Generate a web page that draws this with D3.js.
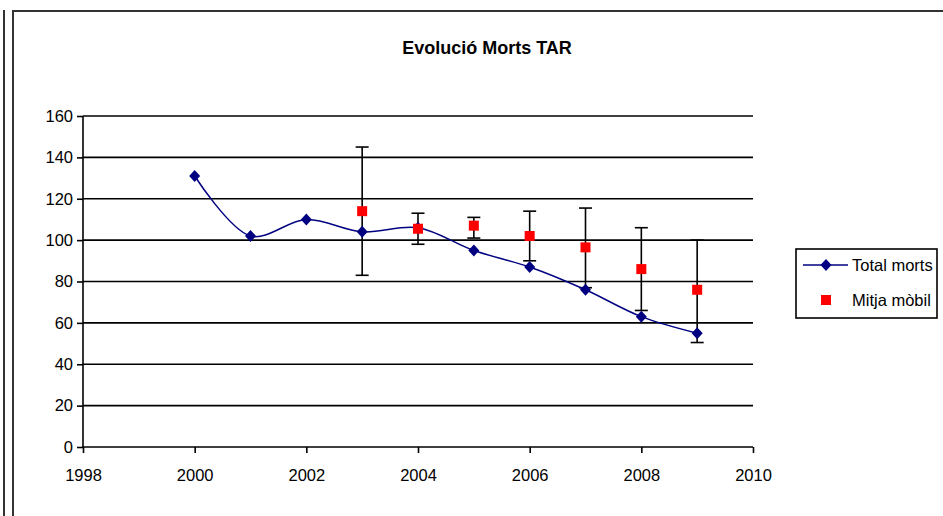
<!DOCTYPE html>
<html>
<head>
<meta charset="utf-8">
<script src="https://cdn.jsdelivr.net/npm/d3@7"></script>
<style>
  html, body { margin: 0; padding: 0; background: #fff; }
  svg { display: block; }
  text { font-family: "Liberation Sans", Arial, sans-serif; fill: #000; }
</style>
</head>
<body>
<svg id="chart" width="943" height="516"></svg>
<script>
// ---- data ----
const years = [2000, 2001, 2002, 2003, 2004, 2005, 2006, 2007, 2008, 2009];
const totalMorts = [131, 102, 110, 104, 106, 95, 87, 76, 63, 55];
const avgYears = [2003, 2004, 2005, 2006, 2007, 2008, 2009];
const mitjaMobil = [114, 105.5, 107, 102, 96.5, 86, 76];
const errHigh = [145, 113, 111, 114, 115.5, 106, 100];
const errLow = [83, 98, 101, 90, 77, 66, 50.5];
const xTicks = [1998, 2000, 2002, 2004, 2006, 2008, 2010];
const yTicks = [0, 20, 40, 60, 80, 100, 120, 140, 160];
const title = "Evolució Morts TAR";
const legendLabels = ["Total morts", "Mitja mòbil"];

const svg = d3.select("#chart");
const navy = "#000080";

// frame
svg.append("line").attr("x1", 4).attr("x2", 4).attr("y1", 10).attr("y2", 516)
  .attr("stroke", "#333").attr("stroke-width", 2);
svg.append("path").attr("d", "M13,516 L13,11 L943,11")
  .attr("fill", "none").attr("stroke", "#333").attr("stroke-width", 2);

// title
svg.append("text").attr("x", 487).attr("y", 54).attr("text-anchor", "middle")
  .attr("font-size", 18).attr("font-weight", "bold").text(title);

const x = d3.scaleLinear().domain([1998, 2010]).range([83, 753]);
const y = d3.scaleLinear().domain([0, 160]).range([447, 116]);

// gridlines
svg.append("g").selectAll("line").data(yTicks.filter(d => d > 0)).join("line")
  .attr("x1", x(1998)).attr("x2", x(2010))
  .attr("y1", d => y(d)).attr("y2", d => y(d))
  .attr("stroke", "#000").attr("stroke-width", 1.6);

// axes
const yAxis = svg.append("g").attr("transform", `translate(${x(1998)},0)`)
  .call(d3.axisLeft(y).tickValues(yTicks).tickSize(6).tickPadding(4));
const xAxis = svg.append("g").attr("transform", `translate(0,${y(0)})`)
  .call(d3.axisBottom(x).tickValues(xTicks).tickFormat(d3.format("d")).tickSize(6).tickPadding(16));
[yAxis, xAxis].forEach(a => {
  a.select(".domain").attr("stroke", "#000").attr("stroke-width", 1.6);
  a.selectAll(".tick line").attr("stroke", "#000").attr("stroke-width", 1.6);
  a.selectAll(".tick text").attr("font-size", 16.5)
    .attr("font-family", "'Liberation Sans', Arial, sans-serif").attr("fill", "#000");
});
yAxis.select(".domain").attr("d", `M0,${y(0)}V${y(160)}`);
xAxis.select(".domain").attr("d", `M${x(1998)},0H${x(2010)}`);

// error bars
const eb = svg.append("g");
avgYears.forEach((yr, i) => {
  const cx = x(yr);
  eb.append("line").attr("x1", cx).attr("x2", cx).attr("y1", y(errHigh[i])).attr("y2", y(errLow[i]))
    .attr("stroke", "#000").attr("stroke-width", 1.6);
  [errHigh[i], errLow[i]].forEach(v => {
    eb.append("line").attr("x1", cx - 6.5).attr("x2", cx + 6.5).attr("y1", y(v)).attr("y2", y(v))
      .attr("stroke", "#000").attr("stroke-width", 1.6);
  });
});

// line
const line = d3.line().x((d, i) => x(years[i])).y(d => y(d)).curve(d3.curveCatmullRom.alpha(0.5));
svg.append("path").datum(totalMorts).attr("d", line)
  .attr("fill", "none").attr("stroke", navy).attr("stroke-width", 1.5);

// diamonds
const diamond = "M0,-6L5.5,0L0,6L-5.5,0Z";
svg.append("g").selectAll("path").data(totalMorts).join("path")
  .attr("d", diamond)
  .attr("transform", (d, i) => `translate(${x(years[i])},${y(d)})`)
  .attr("fill", navy);

// red squares
svg.append("g").selectAll("rect").data(mitjaMobil).join("rect")
  .attr("x", (d, i) => x(avgYears[i]) - 5).attr("y", d => y(d) - 5)
  .attr("width", 10).attr("height", 10).attr("fill", "#ff0000");

// legend
const lg = svg.append("g");
lg.append("rect").attr("x", 796).attr("y", 249).attr("width", 141).attr("height", 69)
  .attr("fill", "#fff").attr("stroke", "#000").attr("stroke-width", 1.6);
lg.append("line").attr("x1", 803).attr("x2", 848).attr("y1", 265).attr("y2", 265)
  .attr("stroke", navy).attr("stroke-width", 1.5);
lg.append("path").attr("d", diamond).attr("transform", "translate(826,265)").attr("fill", navy);
lg.append("rect").attr("x", 821).attr("y", 295).attr("width", 10).attr("height", 10).attr("fill", "#ff0000");
lg.append("text").attr("x", 852).attr("y", 265).attr("dy", "0.35em").attr("font-size", 16.5).text(legendLabels[0]);
lg.append("text").attr("x", 852).attr("y", 300).attr("dy", "0.35em").attr("font-size", 16.5).text(legendLabels[1]);
</script>
</body>
</html>
